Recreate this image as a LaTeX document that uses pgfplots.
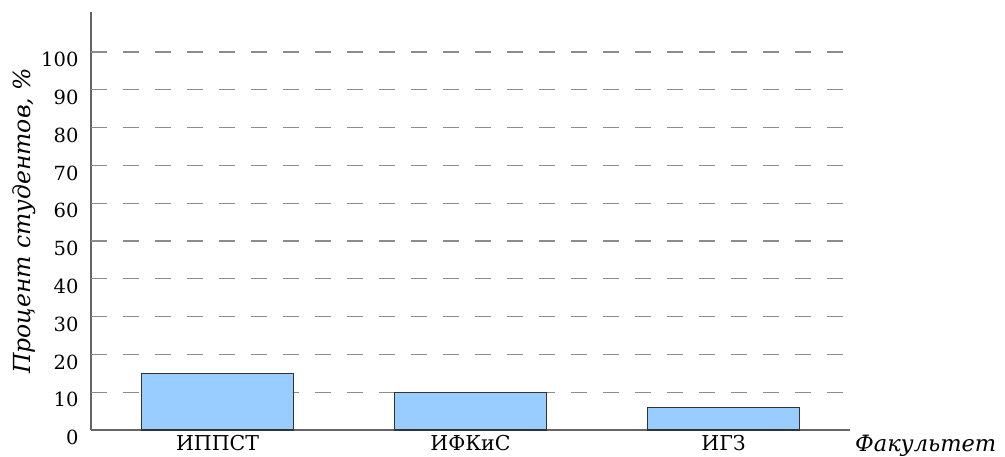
\documentclass[border=0pt]{standalone}
\usepackage{fontspec}
\setmainfont{DejaVu Serif}
\usepackage{pgfplots}
\pgfplotsset{compat=1.18}

\definecolor{barfill}{HTML}{99CCFF}
\definecolor{baredge}{HTML}{333333}
\definecolor{axisgray}{HTML}{666666}
\definecolor{gridgray}{HTML}{8C8C8C}

\begin{document}
\begin{tikzpicture}
\path[use as bounding box] (0pt,0pt) rectangle (1005pt,457pt);
\begin{axis}[
    at={(91pt,27pt)}, anchor=south west,
    scale only axis,
    width=759pt, height=418pt,
    xmin=-0.5, xmax=2.5,
    ymin=0, ymax=110.6,
    axis lines=left,
    axis line style={-, draw=axisgray, line width=1.6pt},
    xtick={0,1,2},
    xticklabels={ИППСТ,ИФКиС,ИГЗ},
    ytick={0,10,...,100},
    major tick length=0pt,
    /pgf/number format/assume math mode=true,
    yticklabel style={font=\fontsize{19.5}{22}\selectfont, xshift=-9pt, yshift=-7.5pt},
    xticklabel style={font=\fontsize{20.5}{23}\selectfont, yshift=-2pt},
    ylabel={Процент студентов, \%},
    every axis y label/.style={at={(rel axis cs:0,0.5)}, xshift=-67pt,
        rotate=90, anchor=center, font=\itshape\fontsize{23.5}{26}\selectfont},
    clip=false,
]
% dashed guide lines, each drawn from the y axis to the right
\pgfplotsinvokeforeach{10,20,...,100}{
  \addplot[draw=gridgray, line width=1.3pt, dash pattern=on 16pt off 16pt,
      forget plot] coordinates {(-0.5,#1) (2.476,#1)};
}
\addplot[ybar, bar width=152pt, fill=barfill, draw=baredge, line width=1.2pt]
    coordinates {(0,15) (1,10) (2,6)};
\node[anchor=base west, font=\itshape\fontsize{22.5}{26}\selectfont, inner sep=0pt]
    at (rel axis cs:1,0) [xshift=5pt, yshift=-22pt] {Факультет};
\end{axis}
\end{tikzpicture}
\end{document}
